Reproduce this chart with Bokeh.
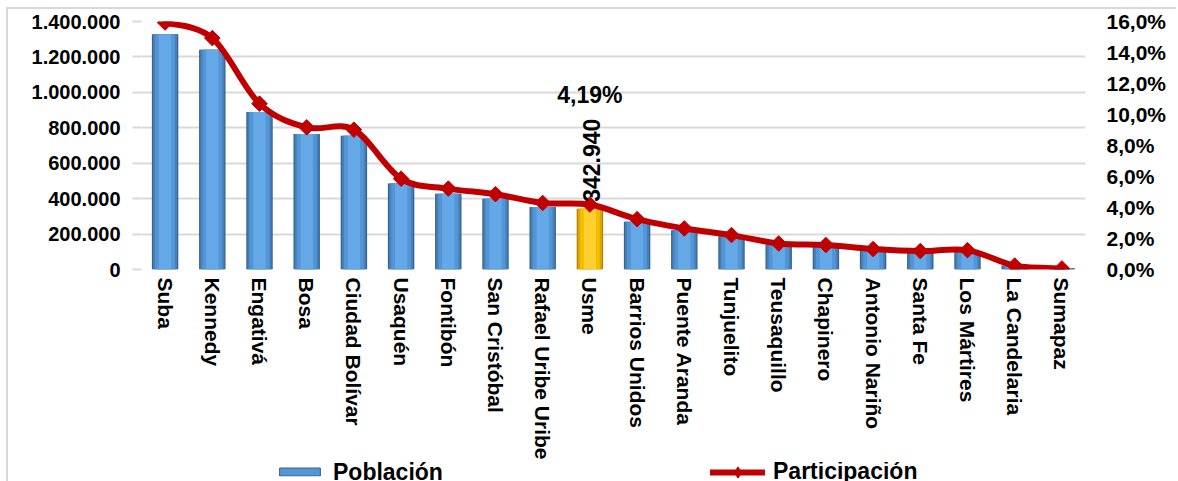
import math
from bokeh.plotting import figure
from bokeh.layouts import column
from bokeh.models import (Range1d, LinearAxis, FixedTicker, Legend, LegendItem,
                          ColumnDataSource)
from bokeh.core.properties import value
from bokeh.embed import file_html
from bokeh.resources import INLINE

# ---------------- data ----------------
categorias = ["Suba", "Kennedy", "Engativá", "Bosa", "Ciudad Bolívar", "Usaquén",
              "Fontibón", "San Cristóbal", "Rafael Uribe Uribe", "Usme",
              "Barrios Unidos", "Puente Aranda", "Tunjuelito", "Teusaquillo",
              "Chapinero", "Antonio Nariño", "Santa Fe", "Los Mártires",
              "La Candelaria", "Sumapaz"]
poblacion = [1328000, 1240000, 889000, 765000, 755000, 485000, 427000, 399000,
             353000, 342940, 270000, 221000, 187000, 141000, 131000, 112000,
             98000, 101000, 22000, 7000]
participacion = [15.93, 14.93, 10.70, 9.17, 9.02, 5.86, 5.22, 4.86, 4.29, 4.19,
                 3.25, 2.65, 2.22, 1.68, 1.58, 1.32, 1.19, 1.25, 0.25, 0.07]
destacado = "Usme"
etiqueta_pob = "342.940"
etiqueta_pct = "4,19%"
ticks_pob = [0, 200000, 400000, 600000, 800000, 1000000, 1200000, 1400000]
ticks_pob_labels = ["0", "200.000", "400.000", "600.000", "800.000",
                    "1.000.000", "1.200.000", "1.400.000"]
ticks_pct = [0, 2, 4, 6, 8, 10, 12, 14, 16]
ticks_pct_labels = ["0,0%", "2,0%", "4,0%", "6,0%", "8,0%", "10,0%", "12,0%",
                    "14,0%", "16,0%"]
serie_barras = "Población"
serie_linea = "Participación"

FONT = "Liberation Sans"
RED = "#C00000"
n = len(categorias)
xs = [i + 0.5 for i in range(n)]
k = categorias.index(destacado)

W = 1168
p = figure(width=W, height=453, x_range=Range1d(0, n),
           y_range=Range1d(0, ticks_pob[-1]),
           output_backend="svg", toolbar_location=None,
           min_border_left=133, min_border_right=91, min_border_top=12,
           min_border_bottom=191)
p.extra_y_ranges = {"pct": Range1d(0, ticks_pct[-1])}
p.outline_line_color = None
p.background_fill_color = "white"
p.border_fill_color = "white"

# grid
p.xgrid.visible = False
p.ygrid.ticker = FixedTicker(ticks=ticks_pob)
p.ygrid.grid_line_color = "#D9D9D9"
p.ygrid.grid_line_width = 2

# x axis
xa = p.xaxis[0]
xa.ticker = FixedTicker(ticks=xs)
xa.major_label_overrides = {x: c for x, c in zip(xs, categorias)}
xa.major_label_orientation = "vertical"
xa.axis_line_color = None
xa.major_tick_line_color = None
xa.major_tick_out = 0
xa.major_tick_in = 0
xa.minor_tick_line_color = None
xa.major_label_standoff = 8
xa.major_label_text_font = FONT
xa.major_label_text_font_style = "bold"
xa.major_label_text_font_size = "21px"
xa.major_label_text_color = "black"

# left axis
ya = p.yaxis[0]
ya.ticker = FixedTicker(ticks=ticks_pob)
ya.major_label_overrides = dict(zip(ticks_pob, ticks_pob_labels))
ya.axis_line_color = None
ya.major_tick_out = 9
ya.major_tick_in = 0
ya.major_tick_line_color = "#D9D9D9"
ya.major_tick_line_width = 2
ya.minor_tick_line_color = None
ya.major_label_standoff = 12
ya.major_label_text_font = FONT
ya.major_label_text_font_style = "bold"
ya.major_label_text_font_size = "20px"
ya.major_label_text_color = "black"

# right axis
ra = LinearAxis(y_range_name="pct", ticker=FixedTicker(ticks=ticks_pct),
                major_label_overrides=dict(zip(ticks_pct, ticks_pct_labels)))
ra.axis_line_color = None
ra.major_tick_line_color = None
ra.major_tick_out = 0
ra.major_tick_in = 0
ra.minor_tick_line_color = None
ra.major_label_standoff = 21
ra.major_label_text_font = FONT
ra.major_label_text_font_style = "bold"
ra.major_label_text_font_size = "21px"
ra.major_label_text_color = "black"
p.add_layout(ra, "right")

# bars (layered to imitate gradient)
blue = ["#35628F", "#4680BB", "#5495D3", "#64A8E8"]
gold = ["#B08400", "#DCA500", "#F5BC00", "#FFD030"]
widths = [0.56, 0.51, 0.42, 0.26]
src = ColumnDataSource(dict(x=xs, top=poblacion))
for j, w in enumerate(widths):
    cols = [gold[j] if c == destacado else blue[j] for c in categorias]
    src.data["c%d" % j] = cols
    p.vbar(x="x", top="top", width=w, bottom=0, source=src,
           fill_color="c%d" % j, line_color=None)

# smoothed line (cubic Bezier segments through the data points)
x0, y0, x1, y1, cx0, cy0, cx1, cy1 = [], [], [], [], [], [], [], []
for i in range(n - 1):
    xp = xs[i - 1] if i > 0 else xs[i]
    yp = participacion[i - 1] if i > 0 else participacion[i]
    xn = xs[i + 2] if i + 2 < n else xs[i + 1]
    yn = participacion[i + 2] if i + 2 < n else participacion[i + 1]
    x0.append(xs[i]); y0.append(participacion[i])
    x1.append(xs[i + 1]); y1.append(participacion[i + 1])
    cx0.append(xs[i] + (xs[i + 1] - xp) / 6.0)
    cy0.append(participacion[i] + (participacion[i + 1] - yp) / 6.0)
    cx1.append(xs[i + 1] - (xn - xs[i]) / 6.0)
    cy1.append(participacion[i + 1] - (yn - participacion[i]) / 6.0)
p.bezier(x0=x0, y0=y0, x1=x1, y1=y1, cx0=cx0, cy0=cy0, cx1=cx1, cy1=cy1,
         line_color=RED, line_width=6, line_cap="round", y_range_name="pct")
p.scatter(x=xs, y=participacion, marker="square", angle=math.pi / 4,
          size=11, fill_color=RED, line_color=RED, y_range_name="pct")

# data labels for the highlighted district
p.text(x=[xs[k]], y=[participacion[k]], text=[etiqueta_pct], y_range_name="pct",
       y_offset=-110, text_align="center", text_baseline="middle",
       text_font=value(FONT), text_font_style="bold", text_font_size="23px",
       text_color="black")
p.text(x=[xs[k]], y=[poblacion[k]], text=[etiqueta_pob], angle=math.pi / 2,
       x_offset=2, y_offset=-7, text_align="left", text_baseline="middle",
       text_font=value(FONT), text_font_style="bold", text_font_size="23px",
       text_color="black")

# ---------------- legend strip ----------------
q = figure(width=W, height=19, x_range=Range1d(0, 1), y_range=Range1d(0, 1),
           output_backend="svg", toolbar_location=None,
           x_axis_location=None, y_axis_location=None,
           min_border_left=0, min_border_right=0, min_border_top=0,
           min_border_bottom=0)
q.grid.visible = False
q.outline_line_color = None
q.background_fill_color = "white"
q.border_fill_color = "white"
# legend proxies: one point each, placed outside the visible range
leg_bar = q.vbar(x=[-5], top=[-5], width=0.5, fill_color=blue[2],
                 line_color=blue[0], line_width=1)
leg_line = q.line(x=[-5, -4], y=[-5, -5], line_color=RED, line_width=6,
                  line_cap="round")
leg_pt = q.scatter(x=[-5], y=[-5], marker="diamond", size=11,
                   fill_color=RED, line_color=RED)


def make_legend(items, left, gw, gh):
    lg = Legend(items=items, location="center_left", orientation="horizontal")
    lg.background_fill_alpha = 0
    lg.border_line_alpha = 0
    lg.padding = 0
    lg.margin = left
    lg.glyph_width = gw
    lg.glyph_height = gh
    lg.label_standoff = 8
    lg.label_text_font = FONT
    lg.label_text_font_style = "bold"
    lg.label_text_font_size = "23px"
    lg.label_text_color = "black"
    return lg


q.add_layout(make_legend([LegendItem(label=serie_barras, renderers=[leg_bar])],
                         133, 51, 10))
q.add_layout(make_legend([LegendItem(label=serie_linea, renderers=[leg_line, leg_pt])],
                         569, 55, 28))

layout = column(p, q, spacing=0)
layout.styles = {"margin-left": "6px", "margin-top": "7px",
                 "border-left": "2px solid #D9D9D9", "border-top": "2px solid #D9D9D9"}

open("out.html", "w").write(file_html(layout, INLINE))
